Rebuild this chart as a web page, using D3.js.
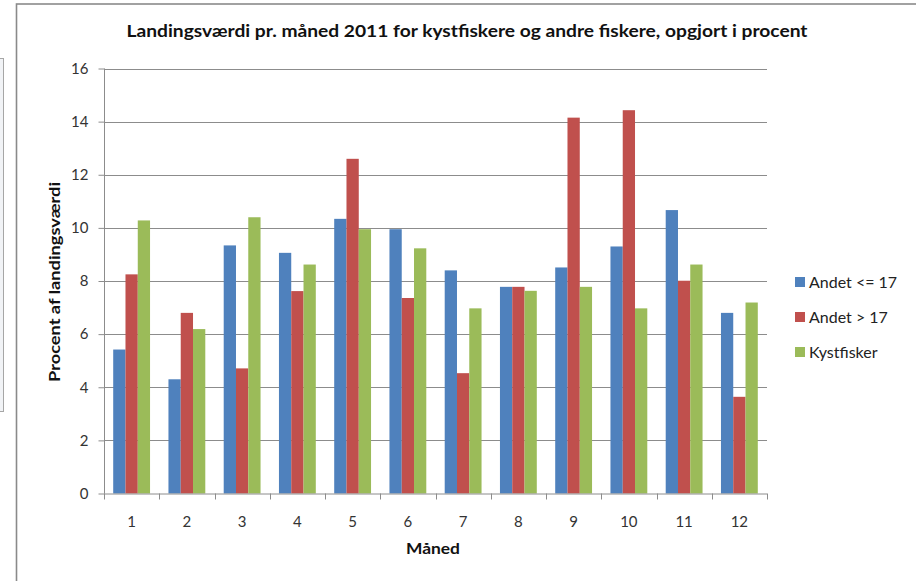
<!DOCTYPE html>
<html>
<head>
<meta charset="utf-8">
<script src="https://cdn.jsdelivr.net/npm/d3@7"></script>
<style>
  html, body { margin: 0; padding: 0; background: #fff; }
  svg { display: block; }
  text { font-family: Lato, "Open Sans", sans-serif; }
</style>
</head>
<body>
<svg id="chart" width="916" height="581"></svg>
<script>
const months = ["1","2","3","4","5","6","7","8","9","10","11","12"];
const seriesNames = ["Andet <= 17", "Andet > 17", "Kystfisker"];
const andetSmall = [5.42, 4.30, 9.34, 9.06, 10.34, 9.95, 8.40, 7.78, 8.51, 9.30, 10.67, 6.80];
const andetLarge = [8.25, 6.80, 4.71, 7.62, 12.60, 7.36, 4.53, 7.78, 14.15, 14.43, 8.01, 3.64];
const kystfisker = [10.28, 6.19, 10.40, 8.62, 9.95, 9.23, 6.97, 7.63, 7.78, 6.97, 8.62, 7.19];
const yTicks = [0, 2, 4, 6, 8, 10, 12, 14, 16];
const colors = ["#4F81BD", "#C0504D", "#9BBB59"];
const title = "Landingsværdi pr. måned 2011  for kystfiskere og andre fiskere, opgjort i procent";
const yTitle = "Procent af landingsværdi";
const xTitle = "Måned";

const seriesValues = [andetSmall, andetLarge, kystfisker];
const svg = d3.select("#chart");

// background artifacts / frame
svg.append("rect").attr("x", -10).attr("y", 58.5).attr("width", 13.5).attr("height", 353)
  .attr("fill", "#f1f3f6").attr("stroke", "#a6a6a6").attr("stroke-width", 1);
svg.append("rect").attr("x", 16.5).attr("y", 4).attr("width", 1000).attr("height", 1000)
  .attr("fill", "#fff").attr("stroke", "#8a8a8a").attr("stroke-width", 1.6);

const pLeft = 104, pRight = 767, pTop = 68.5, pBottom = 493.5;

const x = d3.scaleBand().domain(months).range([pLeft, pRight]).paddingInner(0).paddingOuter(0);
const xs = d3.scaleBand().domain(d3.range(3)).range([0, x.bandwidth()]).paddingInner(0).paddingOuter(0.75);
const y = d3.scaleLinear().domain([0, 16]).range([pBottom, pTop]);

// gridlines
svg.append("g").selectAll("line").data(yTicks.filter(d => d > 0)).join("line")
  .attr("x1", pLeft).attr("x2", pRight)
  .attr("y1", d => Math.round(y(d)) + 0.5).attr("y2", d => Math.round(y(d)) + 0.5)
  .attr("stroke", "#8c8c8c").attr("stroke-width", 1);

// bars
const groups = svg.append("g").selectAll("g").data(months).join("g")
  .attr("transform", d => `translate(${x(d)},0)`);
groups.selectAll("rect").data((m, i) => seriesValues.map((s, k) => ({k, v: s[i]}))).join("rect")
  .attr("x", d => xs(d.k))
  .attr("width", xs.bandwidth())
  .attr("y", d => y(d.v))
  .attr("height", d => y(0) - y(d.v))
  .attr("fill", d => colors[d.k]);

// axes
const yAxis = d3.axisLeft(y).tickValues(yTicks).tickSize(6).tickPadding(10).tickFormat(d3.format("d"));
const gy = svg.append("g").attr("transform", `translate(${pLeft + 0.5},0)`).call(yAxis);
gy.select(".domain").attr("stroke", "#8c8c8c").attr("d", `M0,${pTop}V${pBottom}`);
gy.selectAll(".tick line").attr("stroke", "#8c8c8c");
gy.selectAll(".tick text").attr("font-size", 15).attr("fill", "#333").attr("font-family", "Lato, sans-serif");

const xAxis = d3.axisBottom(x).tickSize(0).tickPadding(22);
const gx = svg.append("g").attr("transform", `translate(0,${pBottom + 0.5})`).call(xAxis);
gx.select(".domain").attr("stroke", "#8c8c8c").attr("d", `M${pLeft},0H${pRight}`);
gx.selectAll(".tick text").attr("font-size", 15).attr("fill", "#333").attr("font-family", "Lato, sans-serif");
// category boundary ticks
svg.append("g").selectAll("line").data(months.concat(["end"])).join("line")
  .attr("x1", (d, i) => Math.round(pLeft + i * x.step()) + 0.5)
  .attr("x2", (d, i) => Math.round(pLeft + i * x.step()) + 0.5)
  .attr("y1", pBottom).attr("y2", pBottom + 6)
  .attr("stroke", "#8c8c8c");

// titles
svg.append("text").attr("x", 467).attr("y", 37).attr("text-anchor", "middle")
  .attr("font-size", 17).attr("font-weight", "bold").attr("fill", "#111")
  .attr("textLength", 681).attr("lengthAdjust", "spacingAndGlyphs").text(title);
svg.append("text").attr("transform", "translate(60,282) rotate(-90)").attr("text-anchor", "middle")
  .attr("font-size", 15).attr("font-weight", "bold").attr("fill", "#111")
  .attr("textLength", 200).attr("lengthAdjust", "spacingAndGlyphs").text(yTitle);
svg.append("text").attr("x", 433).attr("y", 554).attr("text-anchor", "middle")
  .attr("font-size", 16).attr("font-weight", "bold").attr("fill", "#111")
  .attr("textLength", 54).attr("lengthAdjust", "spacingAndGlyphs").text(xTitle);

// legend
const lg = svg.append("g").selectAll("g").data(seriesNames).join("g")
  .attr("transform", (d, i) => `translate(795,${282 + i * 35})`);
lg.append("rect").attr("x", 0).attr("y", -5).attr("width", 10).attr("height", 10)
  .attr("fill", (d, i) => colors[i]);
lg.append("text").attr("x", 14).attr("y", 5.5).attr("font-size", 16).attr("fill", "#222").text(d => d);
</script>
</body>
</html>
